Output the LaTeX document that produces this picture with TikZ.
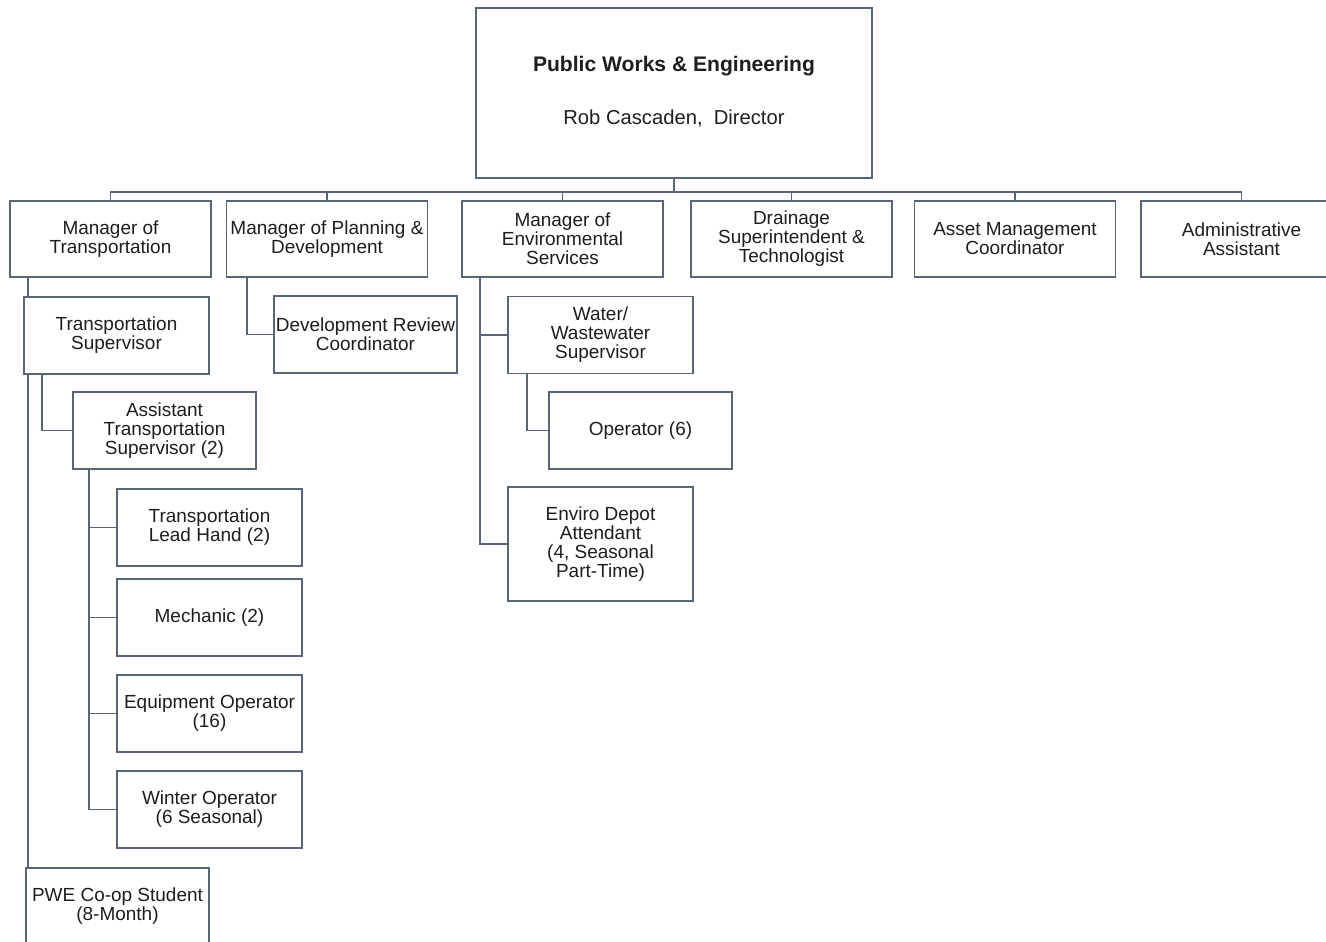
\documentclass[tikz,border=0pt]{standalone}
\usepackage{fontspec}
\setmainfont{Liberation Sans}
\usetikzlibrary{backgrounds}
\definecolor{wire}{RGB}{88,102,120}
\definecolor{ink}{RGB}{30,30,30}
\newcommand{\orgsize}{\fontsize{10.8}{10.8}\selectfont}
\tikzset{
  post/.style={draw=wire,line width=0.9pt,fill=white,text=ink,align=center,
    font=\orgsize,inner sep=0pt,minimum width=#1,minimum height=1.54cm},
  post/.default=3.7cm,
  link/.style={draw=wire,line width=0.9pt},
}

\begin{document}
\begin{tikzpicture}[x=0.02cm,y=-0.02cm]
  \useasboundingbox (0,0) rectangle (1326,941);
  % director
  \node[post=7.92cm,minimum height=3.4cm] (top) at (674,93) {};
  \node[font=\fontsize{12}{14}\selectfont\bfseries,text=ink] (title) at (674,66) {Public Works \& Engineering};
  \node[font=\fontsize{11.5}{13}\selectfont,text=ink] (director) at (674,118) {Rob Cascaden,\ \ Director};
  % managers
  \foreach \n/\x/\lbl in {mT/110.5/Manager of\\Transportation,
      mP/327/Manager of Planning \&\\Development,
      mE/562.5/Manager of\\Environmental\\Services,
      dr/791.5/Drainage\\Superintendent \&\\Technologist,
      am/1015/Asset Management\\Coordinator,
      aa/1241.5/Administrative\\Assistant}
    \node[post=4.02cm,minimum height=1.52cm] (\n) at (\x,239) {\lbl};
  % transportation
  \node[post] (ts) at (116.5,335.5) {Transportation\\Supervisor};
  \node[post=3.66cm] (ats) at (164.5,430.5) {Assistant\\Transportation\\Supervisor (2)};
  \foreach \n/\y/\lbl in {lead/527.5/Transportation\\Lead Hand (2),
      mech/617.5/Mechanic (2),
      equip/713.5/Equipment Operator\\(16),
      winter/809.5/Winter Operator\\(6 Seasonal)}
    \node[post] (\n) at (209.5,\y) {\lbl};
  \node[post=3.66cm] (pwe) at (117.5,906.5) {PWE Co-op Student\\(8-Month)};
  % planning
  \node[post=3.66cm] (drc) at (365.5,334.5) {Development Review\\Coordinator};
  % environmental
  \node[post] (water) at (600.5,335) {Water/\\Wastewater\\Supervisor};
  \node[post=3.66cm] (oper) at (640.5,430.5) {Operator (6)};
  \node[post,minimum height=2.28cm] (enviro) at (600.5,544) {Enviro Depot\\Attendant\\(4, Seasonal\\Part-Time)};

  \begin{scope}[on background layer]
    \coordinate (bus) at (674,192);
    \draw[link] (top.south) -- (bus);
    \draw[link] (mT.north) |- (bus) -| (aa.north);
    \foreach \n in {mP,mE,dr,am}
      \draw[link] (\n.north) -- (\n.north |- bus);
    \draw[link] ([xshift=0.38cm]mT.south west) |- (pwe.west);
    \draw[link] ([xshift=0.38cm]mT.south west) |- (ts.west);
    \draw[link] ([xshift=0.38cm]ts.south west) |- (ats.west);
    \foreach \n in {lead,mech,equip,winter}
      \draw[link] ([xshift=0.34cm]ats.south west) |- (\n.west);
    \draw[link] ([xshift=0.42cm]mP.south west) |- (drc.west);
    \foreach \n in {water,enviro}
      \draw[link] ([xshift=0.38cm]mE.south west) |- (\n.west);
    \draw[link] ([xshift=0.4cm]water.south west) |- (oper.west);
  \end{scope}
\end{tikzpicture}
\end{document}
